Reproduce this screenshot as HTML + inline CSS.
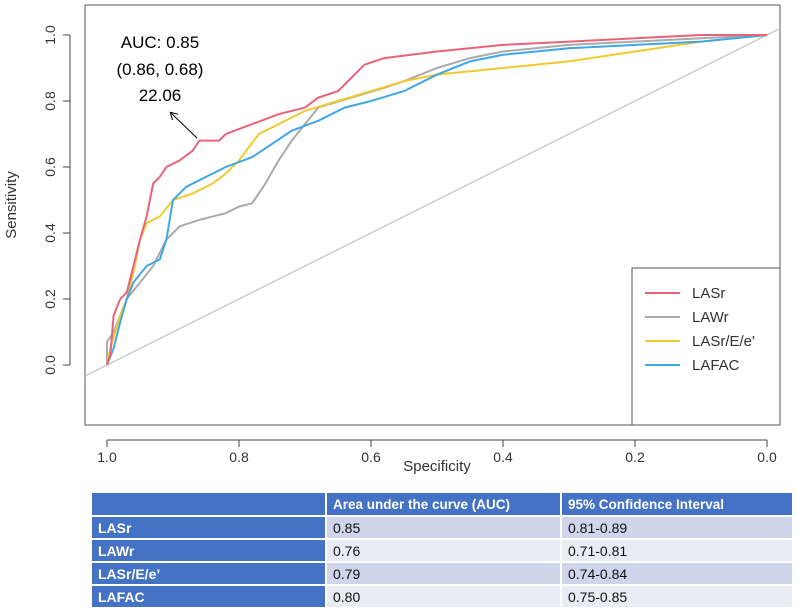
<!DOCTYPE html>
<html><head><meta charset="utf-8"><style>
body{margin:0;background:#fff;width:797px;height:605px;overflow:hidden;font-family:"Liberation Sans",sans-serif}
svg{position:absolute;left:0;top:0}
table{position:absolute;left:90px;top:491px;width:702px;table-layout:fixed;border-collapse:collapse;font-family:"Liberation Sans",sans-serif;font-size:14px}
td{height:21px;padding:0 0 0 6px;border:2px solid #fff;color:#111;overflow:hidden;white-space:nowrap}
tr.h td{background:#4472c4;color:#fff;font-weight:bold;height:22px;font-size:13.5px}
td.f{background:#4472c4;color:#fff;font-weight:bold}
tr.a td.v{background:#cfd5ea}tr.b td.v{background:#e9ebf5}
</style></head><body>
<svg width="797" height="490">
<defs><clipPath id="c"><rect x="85" y="5" width="695" height="420"/></clipPath>
<marker id="ar" markerWidth="8" markerHeight="8" refX="6" refY="4" orient="auto"><path d="M0,0L7,4L0,8" fill="none" stroke="#000"/></marker></defs>
<rect x="85" y="5" width="695" height="420" fill="none" stroke="#555"/>
<g id="ax"></g><g id="lines" clip-path="url(#c)"></g>
<text x="160" y="48" text-anchor="middle" font-size="17">AUC: 0.85</text>
<text x="160" y="75" text-anchor="middle" font-size="17">(0.86, 0.68)</text>
<text x="160" y="101" text-anchor="middle" font-size="17">22.06</text>
<line x1="197" y1="138" x2="171" y2="113" stroke="#000" marker-end="url(#ar)"/>
<text x="437" y="471" text-anchor="middle" font-size="15" fill="#333">Specificity</text>
<text transform="translate(16,205) rotate(-90)" text-anchor="middle" font-size="15" fill="#333">Sensitivity</text>
<g><rect x="632" y="268" width="148" height="157" fill="#fff" stroke="#555"/><g id="leg"></g></g>
</svg>
<table>
<colgroup><col style="width:235px"><col style="width:235px"><col style="width:232px"></colgroup>
<tr class="h"><td></td><td>Area under the curve (AUC)</td><td>95% Confidence Interval</td></tr>
<tr class="a"><td class="f">LASr</td><td class="v">0.85</td><td class="v">0.81-0.89</td></tr>
<tr class="b"><td class="f">LAWr</td><td class="v">0.76</td><td class="v">0.71-0.81</td></tr>
<tr class="a"><td class="f">LASr/E/e’</td><td class="v">0.79</td><td class="v">0.74-0.84</td></tr>
<tr class="b"><td class="f">LAFAC</td><td class="v">0.80</td><td class="v">0.75-0.85</td></tr>
</table>
<script>
const xTicks=[1.0,0.8,0.6,0.4,0.2,0.0];
const yTicks=[0.0,0.2,0.4,0.6,0.8,1.0];
const seriesNames=["LASr","LAWr","LASr/E/e'","LAFAC"];
const seriesColors=["#e8637a","#aaaaaa","#f2c92e","#3fa7e6"];
const lasrSpec=[1,0.995,0.99,0.98,0.97,0.96,0.95,0.94,0.93,0.92,0.91,0.89,0.87,0.86,0.83,0.82,0.78,0.74,0.7,0.68,0.65,0.63,0.61,0.58,0.5,0.4,0.3,0.1,0];
const lasrSens=[0,0.03,0.15,0.2,0.22,0.3,0.38,0.45,0.55,0.57,0.6,0.62,0.65,0.68,0.68,0.7,0.73,0.76,0.78,0.81,0.83,0.87,0.91,0.93,0.95,0.97,0.98,1.0,1];
const lawrSpec=[1,1,0.99,0.97,0.95,0.93,0.91,0.89,0.86,0.82,0.8,0.78,0.76,0.74,0.72,0.7,0.68,0.63,0.58,0.55,0.5,0.45,0.4,0.3,0.1,0];
const lawrSens=[0,0.07,0.1,0.2,0.25,0.3,0.38,0.42,0.44,0.46,0.48,0.49,0.55,0.62,0.68,0.73,0.78,0.81,0.84,0.86,0.9,0.93,0.95,0.97,0.99,1];
const eeSpec=[1,0.995,0.98,0.97,0.96,0.95,0.94,0.92,0.9,0.87,0.84,0.82,0.8,0.77,0.74,0.7,0.65,0.6,0.55,0.5,0.4,0.3,0.2,0.1,0];
const eeSens=[0,0.05,0.15,0.2,0.28,0.38,0.43,0.45,0.5,0.52,0.55,0.58,0.62,0.7,0.73,0.77,0.8,0.83,0.86,0.88,0.9,0.92,0.95,0.98,1];
const lafacSpec=[1,0.99,0.98,0.97,0.96,0.94,0.92,0.91,0.9,0.88,0.85,0.82,0.78,0.75,0.72,0.68,0.64,0.6,0.55,0.5,0.45,0.4,0.3,0.1,0];
const lafacSens=[0,0.05,0.13,0.2,0.25,0.3,0.32,0.38,0.5,0.54,0.57,0.6,0.63,0.67,0.71,0.74,0.78,0.8,0.83,0.88,0.92,0.94,0.96,0.98,1];
const specs=[lasrSpec,lawrSpec,eeSpec,lafacSpec], senss=[lasrSens,lawrSens,eeSens,lafacSens];
const X=v=>767-660*v, Y=v=>365-330*v;
const NS="http://www.w3.org/2000/svg";
function mk(t,a,p){const e=document.createElementNS(NS,t);for(const k in a)e.setAttribute(k,a[k]);p.appendChild(e);return e;}
const ax=document.getElementById('ax');
mk('line',{x1:X(1),x2:X(0),y1:440,y2:440,stroke:'#444'},ax);
mk('line',{x1:70,x2:70,y1:Y(0),y2:Y(1),stroke:'#444'},ax);
xTicks.forEach(t=>{mk('line',{x1:X(t),x2:X(t),y1:440,y2:447,stroke:'#444'},ax);
const tx=mk('text',{x:X(t),y:462,'text-anchor':'middle','font-size':14,fill:'#333'},ax);tx.textContent=t.toFixed(1);

});
yTicks.forEach(t=>{mk('line',{x1:63,x2:70,y1:Y(t),y2:Y(t),stroke:'#444'},ax);
const tx=mk('text',{transform:`translate(55,${Y(t)}) rotate(-90)`,'text-anchor':'middle','font-size':14,fill:'#333'},ax);tx.textContent=t.toFixed(1);

});
const L=document.getElementById('lines');
const dg=mk('line',{x1:X(1.04),y1:Y(-0.04),x2:X(-0.04),y2:Y(1.04),stroke:'#c8c8c8','stroke-width':1.3},L);


[1,2,3,0].forEach(i=>{let d='';specs[i].forEach((s,j)=>{d+=(j?'L':'M')+X(s)+','+Y(senss[i][j]);});
const p=mk('path',{d:d,fill:'none',stroke:seriesColors[i],'stroke-width':2},L);

});
const lg=document.getElementById('leg');
seriesNames.forEach((n,i)=>{const y=293+24*i;
mk('line',{x1:645,x2:680,y1:y,y2:y,stroke:seriesColors[i],'stroke-width':2},lg);
const t=mk('text',{x:692,y:y+5,'font-size':15,fill:'#333'},lg);t.textContent=n;

});
</script>
</body></html>
